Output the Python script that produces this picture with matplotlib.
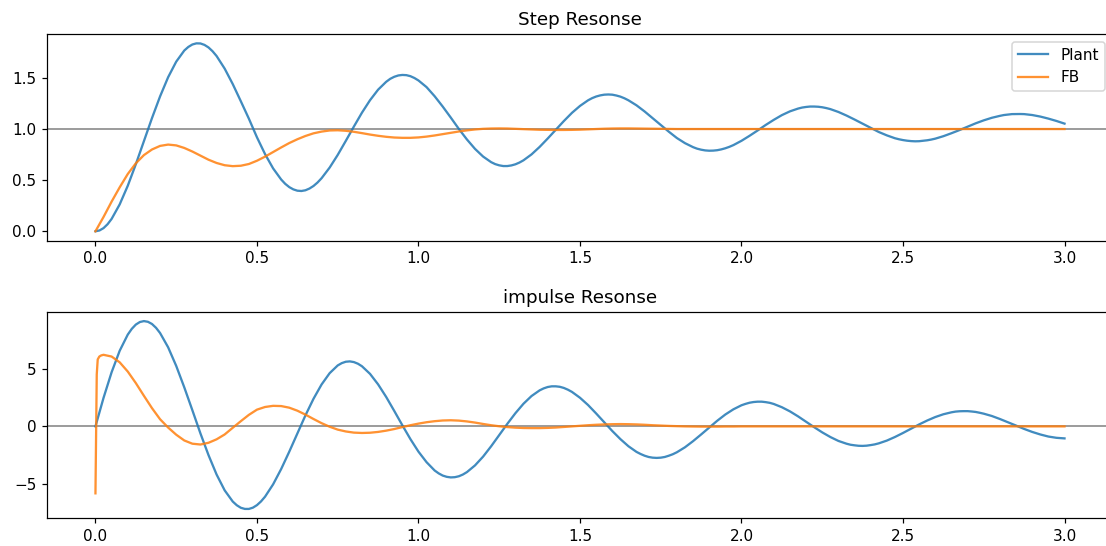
import numpy as np
import matplotlib
matplotlib.use("Agg")
import matplotlib.pyplot as plt

# time grid of the simulation (0..3 s, dt = 0.025)
t = np.linspace(0, 3, 121)

# open loop plant
plant_step = [
    0.0, 0.031, 0.121, 0.263, 0.445, 0.656, 0.881, 1.107, 1.319, 1.507,
    1.659, 1.768, 1.827, 1.837, 1.798, 1.714, 1.591, 1.44, 1.272, 1.101,
    0.919, 0.755, 0.615, 0.506, 0.432, 0.397, 0.401, 0.443, 0.519, 0.623,
    0.747, 0.884, 1.024, 1.16, 1.282, 1.385, 1.462, 1.511, 1.529, 1.517,
    1.475, 1.41, 1.321, 1.22, 1.112, 1.001, 0.898, 0.806, 0.731, 0.676,
    0.645, 0.638, 0.655, 0.694, 0.752, 0.825, 0.907, 0.993, 1.078, 1.158,
    1.226, 1.281, 1.318, 1.336, 1.336, 1.317, 1.281, 1.232, 1.172, 1.106,
    1.04, 0.974, 0.912, 0.862, 0.823, 0.798, 0.788, 0.793, 0.812, 0.843,
    0.885, 0.934, 0.986, 1.04, 1.09, 1.136, 1.173, 1.2, 1.216, 1.22,
    1.213, 1.195, 1.167, 1.132, 1.093, 1.052, 1.01, 0.971, 0.938, 0.91,
    0.892, 0.882, 0.881, 0.89, 0.906, 0.93, 0.959, 0.99, 1.023, 1.056,
    1.085, 1.11, 1.129, 1.142, 1.147, 1.146, 1.137, 1.122, 1.102, 1.079,
    1.053,
]
# extra samples around the turning points of the step
t_step_extra = [
    0.0125, 0.0375, 0.2875, 0.3125, 0.3375, 0.3625, 0.5875, 0.6125, 0.6375,
    0.6625, 0.6875, 0.9125, 0.9375, 0.9625, 0.9875, 1.2375, 1.2625, 1.2875,
    1.3125, 1.5375, 1.5625, 1.5875, 1.6125, 1.6375, 1.8625, 1.8875, 1.9125,
    1.9375, 1.9625, 2.1875, 2.2125, 2.2375, 2.2625, 2.4875, 2.5125, 2.5375,
    2.5625, 2.5875, 2.8125, 2.8375, 2.8625, 2.8875, 2.9125,
]
plant_step_extra = [
    0.008, 0.069, 1.803, 1.838, 1.823, 1.761, 0.464, 0.410, 0.394,
    0.418, 0.477, 1.491, 1.524, 1.527, 1.499, 0.657, 0.638, 0.644,
    0.672, 1.302, 1.329, 1.338, 1.328, 1.301, 0.808, 0.791, 0.789,
    0.801, 0.826, 1.210, 1.220, 1.218, 1.205, 0.900, 0.886, 0.880,
    0.885, 0.897, 1.137, 1.146, 1.147, 1.142, 1.130,
]

plant_impulse = [
    0.0, 2.47, 4.69, 6.55, 7.95, 8.82, 9.12, 8.87, 8.09, 6.85,
    5.24, 3.38, 1.40, -0.61, -2.49, -4.17, -5.54, -6.51, -7.05, -7.15,
    -6.82, -6.09, -5.02, -3.69, -2.19, -0.61, 0.95, 2.39, 3.63, 4.61,
    5.28, 5.60, 5.57, 5.21, 4.55, 3.64, 2.55, 1.34, 0.10, -1.10,
    -2.19, -3.10, -3.82, -4.26, -4.42, -4.32, -3.96, -3.38, -2.62, -1.72,
    -0.75, 0.22, 1.14, 1.96, 2.63, 3.12, 3.41, 3.47, 3.33, 2.99,
    2.48, 1.85, 1.12, 0.36, -0.40, -1.10, -1.72, -2.21, -2.54, -2.71,
    -2.71, -2.54, -2.24, -1.81, -1.28, -0.70, -0.10, 0.49, 1.03, 1.48,
    1.83, 2.05, 2.14, 2.10, 1.94, 1.66, 1.30, 0.87, 0.40, -0.07,
    -0.52, -0.92, -1.26, -1.50, -1.64, -1.69, -1.62, -1.47, -1.23, -0.92,
    -0.57, -0.20, 0.17, 0.51, 0.81, 1.05, 1.22, 1.31, 1.32, 1.25,
    1.10, 0.90, 0.64, 0.36, 0.07, -0.22, -0.48, -0.70, -0.88, -0.99,
    -1.04,
]
t_imp_extra = [
    0.1125, 0.1375, 0.1625, 0.1875, 0.4375, 0.4625, 0.4875, 0.5125,
    0.7625, 0.7875, 0.8125, 1.0625, 1.0875, 1.1125, 1.1375, 1.3875,
    1.4125, 1.4375, 1.4625, 1.6875, 1.7125, 1.7375, 1.7625, 1.7875,
    2.0125, 2.0375, 2.0625, 2.0875, 2.3375, 2.3625, 2.3875, 2.4125,
    2.6625, 2.6875, 2.7125, 2.7375,
]
plant_impulse_extra = [
    8.45, 9.04, 9.06, 8.54, -6.83, -7.15, -7.04, -6.50,
    5.48, 5.63, 5.43, -4.07, -4.37, -4.40, -4.17, 3.29,
    3.47, 3.43, 3.18, -2.39, -2.65, -2.73, -2.65, -2.41,
    1.95, 2.11, 2.14, 2.04, -1.59, -1.68, -1.67, -1.56,
    1.28, 1.32, 1.29, 1.18,
]

# closed loop with the controller
fb_step = [
    0.0, 0.14, 0.29, 0.43, 0.56, 0.665, 0.745, 0.80, 0.835, 0.848,
    0.84, 0.815, 0.78, 0.74, 0.70, 0.668, 0.646, 0.637, 0.641, 0.658,
    0.69, 0.73, 0.775, 0.82, 0.863, 0.90, 0.932, 0.958, 0.975, 0.986,
    0.988, 0.983, 0.973, 0.96, 0.946, 0.934, 0.924, 0.917, 0.914, 0.914,
    0.918, 0.926, 0.937, 0.95, 0.963, 0.976, 0.987, 0.996, 1.002, 1.005,
    1.006, 1.005, 1.002, 0.999, 0.996, 0.993, 0.992, 0.991, 0.991, 0.992,
    0.994, 0.997, 1.0, 1.003, 1.005, 1.006, 1.006, 1.005, 1.004, 1.003,
    1.002, 1.001, 1.0, 1.0, 1.0, 1.0, 1.0, 1.0, 1.0, 1.0,
    1.0, 1.0, 1.0, 1.0, 1.0, 1.0, 1.0, 1.0, 1.0, 1.0,
    1.0, 1.0, 1.0, 1.0, 1.0, 1.0, 1.0, 1.0, 1.0, 1.0,
    1.0, 1.0, 1.0, 1.0, 1.0, 1.0, 1.0, 1.0, 1.0, 1.0,
    1.0, 1.0, 1.0, 1.0, 1.0, 1.0, 1.0, 1.0, 1.0, 1.0,
    1.0,
]

# the FB impulse jumps right at t=0, so it gets a few extra early samples
t_fb_head = [0.0, 0.004, 0.007, 0.012, 0.018]
fb_impulse_head = [-5.8, 4.5, 5.8, 6.05, 6.15]
fb_impulse = [
    6.20, 6.05, 5.55, 4.75, 3.75, 2.65, 1.58, 0.62, -0.10,
    -0.72, -1.22, -1.50, -1.57, -1.42, -1.12, -0.70, -0.12, 0.45, 1.00,
    1.45, 1.68, 1.78, 1.76, 1.62, 1.36, 1.02, 0.64, 0.28, -0.03,
    -0.28, -0.44, -0.54, -0.57, -0.55, -0.48, -0.37, -0.23, -0.06, 0.10,
    0.24, 0.36, 0.45, 0.51, 0.53, 0.50, 0.43, 0.33, 0.21, 0.10,
    0.01, -0.06, -0.11, -0.14, -0.15, -0.15, -0.13, -0.10, -0.05, 0.0,
    0.05, 0.10, 0.14, 0.17, 0.19, 0.20, 0.19, 0.17, 0.14, 0.10,
    0.07, 0.04, 0.02, 0.0, -0.01, -0.02, -0.02, -0.02, -0.01, -0.01,
    0.0, 0.0, 0.0, 0.0, 0.0, 0.0, 0.0, 0.0, 0.0, 0.0,
    0.0, 0.0, 0.0, 0.0, 0.0, 0.0, 0.0, 0.0, 0.0, 0.0,
    0.0, 0.0, 0.0, 0.0, 0.0, 0.0, 0.0, 0.0, 0.0, 0.0,
    0.0, 0.0, 0.0, 0.0, 0.0, 0.0, 0.0, 0.0, 0.0, 0.0,
    0.0,
]


def merge(t_a, y_a, t_b, y_b):
    tt = np.concatenate([t_a, t_b])
    yy = np.concatenate([y_a, y_b])
    idx = np.argsort(tt)
    return tt[idx], yy[idx]


t_ps, y_ps = merge(t, plant_step, t_step_extra, plant_step_extra)
t_pi, y_pi = merge(t, plant_impulse, t_imp_extra, plant_impulse_extra)
t_fb = np.concatenate([t_fb_head, t[1:]])
fb_imp = np.concatenate([fb_impulse_head, fb_impulse])

dpi = 110
fig = plt.figure(figsize=(1106 / dpi, 546 / dpi), dpi=dpi)
ax1 = fig.add_axes([0.0425, 0.5592, 0.9638, 0.3786])
ax2 = fig.add_axes([0.0425, 0.0507, 0.9638, 0.3784])

al = 0.85

# step (reference line first, curves on top)
ax1.axhline(1, color="k", lw=1, alpha=0.5)
ax1.plot(t_ps, y_ps, color="tab:blue", alpha=al, label="Plant")
ax1.plot(t, fb_step, color="tab:orange", alpha=al, label="FB")
ax1.set_yticks([0.0, 0.5, 1.0, 1.5])
ax1.set_title("Step Resonse")
ax1.legend(loc="upper right")

# impulse
ax2.axhline(0, color="k", lw=1, alpha=0.5)
ax2.plot(t_pi, y_pi, color="tab:blue", alpha=al, label="Plant")
ax2.plot(t_fb, fb_imp, color="tab:orange", alpha=al, label="FB")
ax2.set_yticks([-5, 0, 5])
ax2.set_title("impulse Resonse")

fig.savefig("out.png", dpi=dpi)
